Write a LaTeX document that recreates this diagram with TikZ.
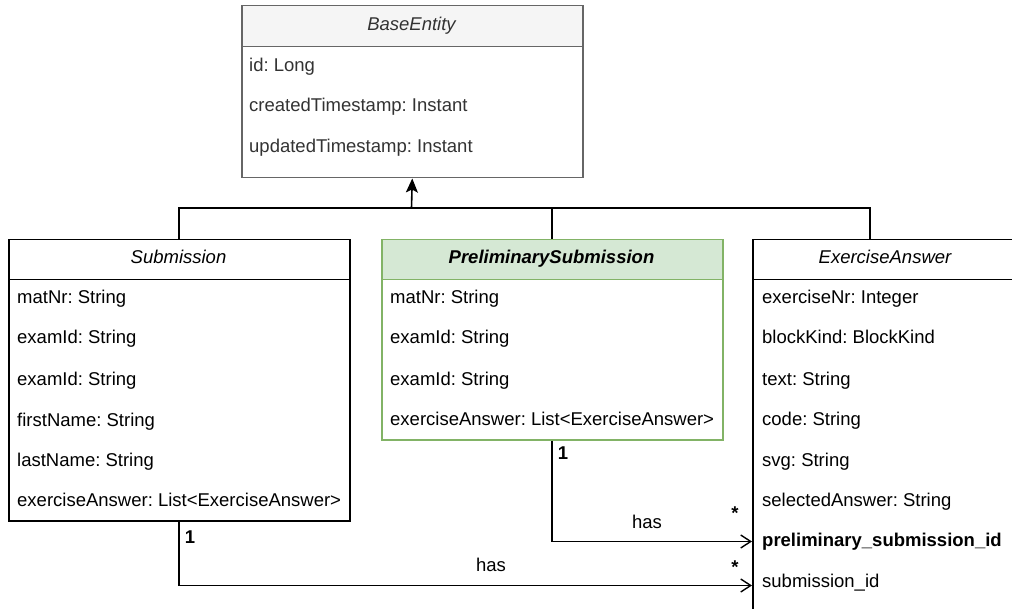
\documentclass[tikz,border=0pt]{standalone}
\usepackage{fontspec}
\setmainfont{Liberation Sans}
\usetikzlibrary{arrows.meta}
\definecolor{hdrgray}{HTML}{F5F5F5}
\definecolor{strokegray}{HTML}{666666}
\definecolor{titlegray}{HTML}{333333}
\definecolor{greenfill}{HTML}{D5E8D4}
\definecolor{greenline}{HTML}{82B366}
\newcommand{\diafont}{\fontsize{18.5}{22}\selectfont}
\frenchspacing
\tikzset{
  umlbox/.style={draw, line width=1.5pt, inner sep=0, anchor=north west, fill=white},
  umlhead/.style={draw, line width=1.5pt, inner sep=0, anchor=north west},
  attr/.style={anchor=west, inner sep=0, text height=0.72em, text depth=0.22em, yshift=-2.5pt},
  ttl/.style={inner sep=0, font={\diafont\itshape}, text height=0.72em, text depth=0.22em, yshift=-2pt},
  link/.style={line width=1.6pt, draw=black},
  inherit/.style={link, -{Stealth[length=14pt, width=12pt, inset=3pt]}},
  assoc/.style={link, -{Straight Barb[length=10pt, width=13pt, line width=1.4pt]}},
  mult/.style={inner sep=0, font={\diafont\bfseries}},
  rolelbl/.style={inner sep=0},
}
\begin{document}
\begin{tikzpicture}[x=1pt, y=-1pt, font=\diafont]
\useasboundingbox (0,0) rectangle (1012,609);
\clip (0,0) rectangle (1012,609);

% BaseEntity
\node[umlbox, draw=strokegray, minimum width=341pt, minimum height=172pt] (base) at (241,5) {};
\node[umlhead, draw=strokegray, fill=hdrgray, minimum width=341pt, minimum height=41pt] (base-head) at (241,5) {};
\node[ttl, text=titlegray] (base-title) at (411.5,26) {BaseEntity};
\node[attr, text=titlegray] (base-a1) at (249,67) {id: Long};
\node[attr, text=titlegray] (base-a2) at (249,107) {createdTimestamp: Instant};
\node[attr, text=titlegray] (base-a3) at (249,148) {updatedTimestamp: Instant};

% Submission
\node[umlbox, minimum width=341pt, minimum height=281pt] (sub) at (8,239) {};
\node[umlhead, minimum width=341pt, minimum height=40pt] (sub-head) at (8,239) {};
\node[ttl] (sub-title) at (178.5,259) {Submission};
\node[attr] (sub-a1) at (17,299) {matNr: String};
\node[attr] (sub-a2) at (17,339) {examId: String};
\node[attr] (sub-a3) at (17,380) {examId: String};
\node[attr] (sub-a4) at (17,421) {firstName: String};
\node[attr] (sub-a5) at (17,461) {lastName: String};
\node[attr] (sub-a6) at (17,501) {exerciseAnswer: List<ExerciseAnswer>};

% PreliminarySubmission
\node[umlbox, draw=greenline, minimum width=341pt, minimum height=200pt] (pre) at (381,239) {};
\node[umlhead, draw=greenline, fill=greenfill, minimum width=341pt, minimum height=40pt] (pre-head) at (381,239) {};
\node[ttl, font={\diafont\bfseries\itshape}] (pre-title) at (551.5,259) {PreliminarySubmission};
\node[attr] (pre-a1) at (390,299) {matNr: String};
\node[attr] (pre-a2) at (390,339) {examId: String};
\node[attr] (pre-a3) at (390,380) {examId: String};
\node[attr] (pre-a4) at (390,420) {exerciseAnswer: List<ExerciseAnswer>};

% ExerciseAnswer (runs past the right and bottom edges)
\node[umlbox, minimum width=300pt, minimum height=420pt] (ans) at (752,239) {};
\node[umlhead, minimum width=300pt, minimum height=40pt] (ans-head) at (752,239) {};
\node[ttl] (ans-title) at (885,259) {ExerciseAnswer};
\node[attr] (ans-a1) at (762,299) {exerciseNr: Integer};
\node[attr] (ans-a2) at (762,339) {blockKind: BlockKind};
\node[attr] (ans-a3) at (762,380) {text: String};
\node[attr] (ans-a4) at (762,420) {code: String};
\node[attr] (ans-a5) at (762,461) {svg: String};
\node[attr] (ans-a6) at (762,501) {selectedAnswer: String};
\node[attr, font={\diafont\bfseries}] (ans-a7) at (762,541) {preliminary\_submission\_id};
\node[attr] (ans-a8) at (762,582) {submission\_id};

% Inheritance bus
\coordinate (busjoin) at (411.5,208);
\coordinate (ansjoin) at (870,239);
\draw[link] (sub-head.north) |- (busjoin);
\draw[link] (pre-head.north) |- (busjoin);
\draw[link] (ansjoin) |- (busjoin);
\draw[inherit] (busjoin) -- (base.south);

% Associations
\coordinate (ans-fk1) at (752,541.5);
\coordinate (ans-fk2) at (752,585.5);
\draw[assoc] (pre.south) |- (ans-fk1);
\draw[assoc] (sub.south) |- (ans-fk2);

\node[mult] (m-pre1) at (563,453) {1};
\node[rolelbl] (has-pre) at (647,522) {has};
\node[mult] (m-pre2) at (735,513) {*};
\node[mult] (m-sub1) at (190,537) {1};
\node[rolelbl] (has-sub) at (491,565) {has};
\node[mult] (m-sub2) at (735,567) {*};
\end{tikzpicture}
\end{document}
